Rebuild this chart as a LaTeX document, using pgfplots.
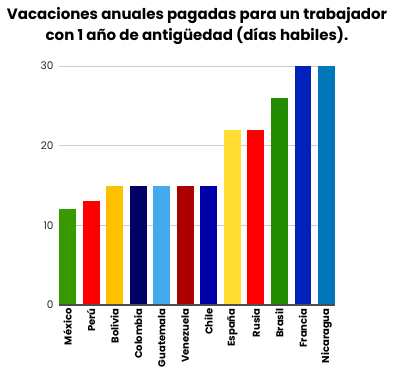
\documentclass[border=0pt]{standalone}
\usepackage{pgfplots}
\pgfplotsset{compat=1.18}
\usepackage{fontspec}
\setmainfont{Poppins}
\definecolor{cMex}{HTML}{389A00}
\definecolor{cPer}{HTML}{FF0000}
\definecolor{cBol}{HTML}{FFC000}
\definecolor{cCol}{HTML}{000066}
\definecolor{cGua}{HTML}{44AAEE}
\definecolor{cVen}{HTML}{AA0000}
\definecolor{cChi}{HTML}{0000AA}
\definecolor{cEsp}{HTML}{FFDD33}
\definecolor{cRus}{HTML}{FF0000}
\definecolor{cBra}{HTML}{228B00}
\definecolor{cFra}{HTML}{0022BB}
\definecolor{cNic}{HTML}{0077BB}
\begin{document}
\begin{tikzpicture}[x=1pt,y=1pt]
\path[use as bounding box] (0,0) rectangle (395,378);
\node[align=center,font=\fontsize{15}{21}\selectfont\bfseries,text=black] at (197,352)
 {Vacaciones anuales pagadas para un trabajador\\con 1 año de antigüedad (días habiles).};
\begin{axis}[
 at={(59pt,73pt)}, anchor=south west,
 scale only axis, width=276pt, height=239pt,
 xmin=-0.36, xmax=11.36, ymin=0, ymax=30,
 axis line style={draw=none},
 axis x line*=bottom,
 ytick={0,10,20,30},
 xtick={0,...,11},
 xticklabels={México,Perú,Bolivia,Colombia,Guatemala,Venezuela,Chile,España,Rusia,Brasil,Francia,Nicaragua},
 x tick label style={rotate=90, anchor=east, font=\fontsize{10}{10}\selectfont\bfseries, yshift=0pt},
 y tick label style={font=\fontsize{10.5}{10}\selectfont, text=black!85},
 /pgf/number format/assume math mode=true,
 major tick length=0pt,
 ymajorgrids, grid style={draw=black!20, line width=0.8pt},
 yticklabel style={xshift=-2pt},
 bar width=0.72,
 ybar, bar shift=0pt,
 clip=false,
]
\addplot[fill=cMex, draw=none] coordinates {(0,12)};
\addplot[fill=cPer, draw=none] coordinates {(1,13)};
\addplot[fill=cBol, draw=none] coordinates {(2,15)};
\addplot[fill=cCol, draw=none] coordinates {(3,15)};
\addplot[fill=cGua, draw=none] coordinates {(4,15)};
\addplot[fill=cVen, draw=none] coordinates {(5,15)};
\addplot[fill=cChi, draw=none] coordinates {(6,15)};
\addplot[fill=cEsp, draw=none] coordinates {(7,22)};
\addplot[fill=cRus, draw=none] coordinates {(8,22)};
\addplot[fill=cBra, draw=none] coordinates {(9,26)};
\addplot[fill=cFra, draw=none] coordinates {(10,30)};
\addplot[fill=cNic, draw=none] coordinates {(11,30)};
\draw[black!70, line width=1.5pt] (axis cs:-0.36,0) -- (axis cs:11.36,0);
\end{axis}
\end{tikzpicture}
\end{document}
